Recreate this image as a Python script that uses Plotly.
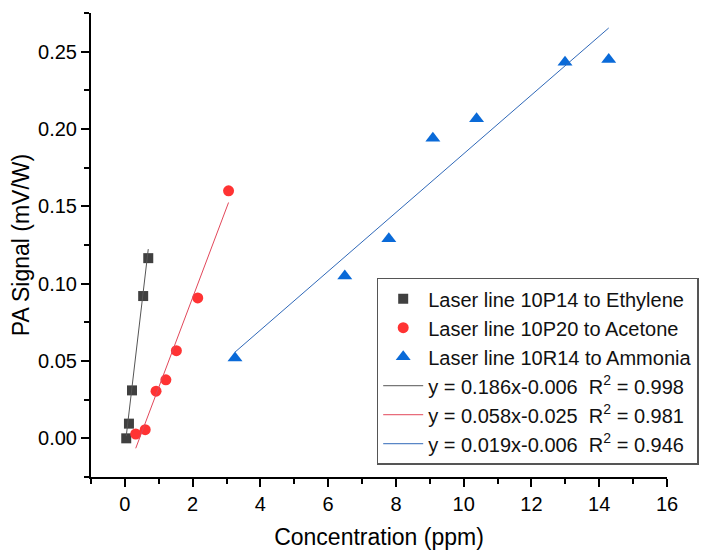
import plotly.graph_objects as go

# Data
eth_x = [0.04, 0.12, 0.21, 0.54, 0.69]
eth_y = [0.000, 0.0095, 0.031, 0.092, 0.1165]

ace_x = [0.32, 0.60, 0.92, 1.21, 1.52, 2.15, 3.06]
ace_y = [0.0028, 0.0056, 0.0305, 0.0378, 0.0567, 0.0908, 0.160]

amm_x = [3.25, 6.49, 7.79, 9.09, 10.38, 12.99, 14.28]
amm_y = [0.052, 0.105, 0.129, 0.194, 0.2066, 0.2432, 0.245]

# Linear fit coefficients as shown in the legend
slopes = [0.186, 0.058, 0.019]
intercepts = [-0.006, -0.025, -0.006]
r2 = [0.998, 0.981, 0.946]

names = ["Laser line 10P14 to Ethylene", "Laser line 10P20 to Acetone", "Laser line 10R14 to Ammonia"]
marker_colors = ["#404040", "#ff3333", "#0a6ad8"]
line_colors = ["#555555", "#e2475a", "#2f68b8"]
symbols = ["square", "circle", "triangle-up"]
sizes = [10, 11, 13]

xs = [eth_x, ace_x, amm_x]
ys = [eth_y, ace_y, amm_y]

FONT = "Liberation Sans, Arial, sans-serif"
fig = go.Figure()

for i in range(3):
    fig.add_trace(go.Scatter(
        x=xs[i], y=ys[i], mode="markers", name=names[i],
        marker=dict(symbol=symbols[i], size=sizes[i], color=marker_colors[i]),
    ))

for i in range(3):
    x0, x1 = min(xs[i]), max(xs[i])
    lx = [x0, x1]
    ly = [slopes[i] * v + intercepts[i] for v in lx]
    label = f"y = {slopes[i]:.3f}x{intercepts[i]:.3f}\u00a0\u00a0R<sup>2</sup> = {r2[i]:.3f}"
    fig.add_trace(go.Scatter(
        x=lx, y=ly, mode="lines", name=label,
        line=dict(color=line_colors[i], width=1),
    ))

fig.update_layout(
    width=725, height=557,
    margin=dict(l=83, r=66, t=5, b=88),
    paper_bgcolor="white", plot_bgcolor="white",
    font=dict(family=FONT, color="black", size=20),
    legend=dict(
        x=0.496, y=0.4295, xanchor="left", yanchor="top",
        bordercolor="#555555", borderwidth=1.5, bgcolor="white",
        font=dict(size=20, family=FONT, color="#111111"), itemwidth=40,
        tracegroupgap=0,
    ),
    showlegend=True,
)

fig.update_xaxes(
    range=[-1, 16], dtick=2, tick0=0, automargin=False,
    showline=True, linecolor="black", linewidth=2,
    ticks="outside", ticklen=8, tickwidth=2, tickcolor="black",
    minor=dict(ticks="outside", dtick=1, ticklen=5, tickwidth=2, tickcolor="black"),
    showgrid=False, zeroline=False,
    title=dict(text="Concentration (ppm)", font=dict(size=23)),
    tickfont=dict(size=20),
)
fig.update_yaxes(
    range=[-0.025, 0.275], dtick=0.05, tick0=0, tickformat=".2f", automargin=False,
    showline=True, linecolor="black", linewidth=2,
    ticks="outside", ticklen=8, tickwidth=2, tickcolor="black",
    minor=dict(ticks="outside", dtick=0.025, ticklen=5, tickwidth=2, tickcolor="black"),
    showgrid=False, zeroline=False,
    title=dict(text="PA Signal (mV/W)", font=dict(size=23)),
    tickfont=dict(size=20),
)

fig.write_html("out.html")
